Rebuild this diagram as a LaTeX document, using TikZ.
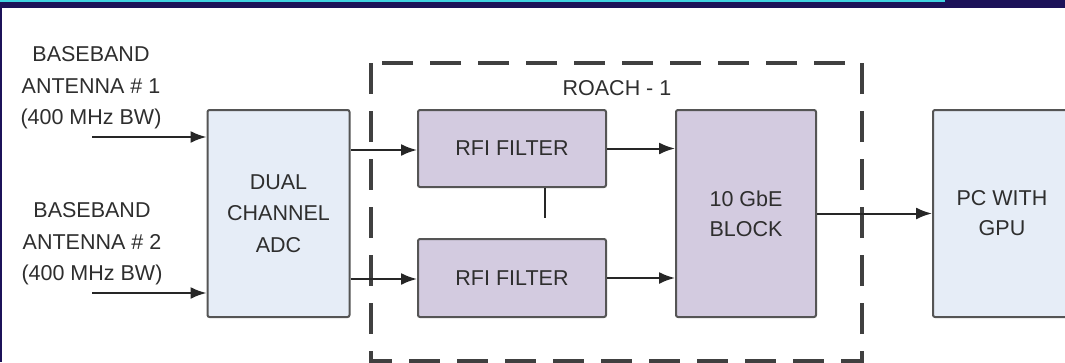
\documentclass[tikz,border=0pt]{standalone}
\usepackage{fontspec}
\setmainfont{Liberation Sans}
\usetikzlibrary{arrows.meta,positioning,calc}
\definecolor{barnavy}{HTML}{1C1259}
\definecolor{barcyan}{HTML}{3FD3E0}
\definecolor{boxblue}{HTML}{E6EDF7}
\definecolor{boxlilac}{HTML}{D3CBE0}
\definecolor{edgegray}{HTML}{555555}
\definecolor{txtgray}{HTML}{2E2E2E}

\begin{document}
\begin{tikzpicture}[
    x=1pt, y=-1pt,
    blk/.style={draw=edgegray, line width=2pt, rounded corners=2pt, text=txtgray,
      align=center, font=\fontsize{21.5}{31.5}\selectfont, inner sep=0pt},
    lbl/.style={text=txtgray, align=center, font=\fontsize{21.5}{31.5}\selectfont, inner sep=0pt},
    sig/.style={draw=black!85, line width=2pt, -{Latex[length=16pt,width=12pt]}},
    roach/.style={draw=black!75, line width=3.5pt, dash pattern=on 31pt off 17pt}
  ]
    \useasboundingbox (0,0) rectangle (1065,362);
    % frame of the slide
    \fill[barnavy] (0,0) rectangle (1065,7.5);
    \fill[barcyan] (0,0) rectangle (945,1.8);
    \fill[barnavy] (0,7.5) rectangle (1.5,362);

    % ROACH board
    \draw[roach] (371,63) rectangle (862,361);
    \node[lbl] (roachname) at (617,88) {ROACH - 1};

    % blocks
    \node[blk, fill=boxblue, minimum width=142, minimum height=207] (adc) at (278.5,213.5) {DUAL\\CHANNEL\\ADC};
    \node[blk, fill=boxlilac, minimum width=188, minimum height=77] (filt1) at (512,148.5) {RFI FILTER};
    \node[blk, fill=boxlilac, minimum width=188, minimum height=78] (filt2) at (512,278) {RFI FILTER};
    \node[blk, fill=boxlilac, minimum width=140, minimum height=207, font=\fontsize{21.5}{30}\selectfont] (gbe) at (746,213.5) {10 GbE\\BLOCK};
    \node[blk, fill=boxblue, minimum width=138, minimum height=207, font=\fontsize{21.5}{30}\selectfont] (pc) at (1002,213.5) {PC WITH\\GPU};

    % antenna inputs
    \node[lbl] (ant1) at (91,88) {BASEBAND\\ANTENNA \# 1\\(400 MHz BW)};
    \node[lbl] (ant2) at (92,244) {BASEBAND\\ANTENNA \# 2\\(400 MHz BW)};
    \coordinate (in1) at (92,137);
    \coordinate (in2) at (92,293);
    \coordinate (tick) at (545,218);

    \draw[sig] (in1) -- (in1 -| adc.west);
    \draw[sig] (in2) -- (in2 -| adc.west);
    \draw[sig] ([yshift=-1.5pt]filt1.west -| adc.east) -- ([yshift=-1.5pt]filt1.west);
    \draw[sig] ([yshift=-1pt]filt2.west -| adc.east) -- ([yshift=-1pt]filt2.west);
    \draw[sig] (filt1.east) -- (filt1.east -| gbe.west);
    \draw[sig] (filt2.east) -- (filt2.east -| gbe.west);
    \draw[sig] (gbe.east) -- (pc.west);
    \draw[black!85, line width=2pt] (tick |- filt1.south) -- (tick);
  \end{tikzpicture}
\end{document}
